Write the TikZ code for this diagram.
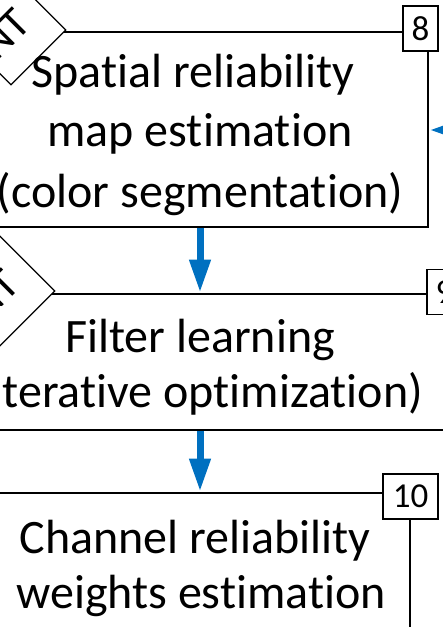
\documentclass[tikz,border=0pt]{standalone}
\usepackage{fontspec}
\setmainfont{Carlito}[Ligatures={NoCommon}]
\usetikzlibrary{arrows.meta,shapes.geometric}
\definecolor{flowblue}{RGB}{0,112,192}
\begin{document}
\begin{tikzpicture}[x=1pt,y=-1pt,
  stage/.style={draw=black,line width=2.6pt,inner sep=0pt},
  steptag/.style={draw=black,fill=white,line width=1.8pt,inner sep=0pt,
    minimum height=45pt,font=\fontsize{35}{35}\selectfont},
  gate/.style={draw=black,fill=white,line width=1.2pt,shape=diamond,
    aspect=1,inner sep=0pt},
  caption/.style={anchor=base,inner sep=0pt,font=\fontsize{48}{48}\selectfont},
  gatetext/.style={inner sep=0pt,font=\fontsize{44}{44}\selectfont},
  flow/.style={draw=flowblue,line width=7pt,
    -{Triangle[length=33pt,width=20pt]}}]
\useasboundingbox (0,0) rectangle (443,627);
\clip (0,0) rectangle (443,627);

% processing stages
\node[stage,minimum width=488pt,minimum height=195pt] (srm) at (184,129.5) {};
\node[stage,minimum width=560pt,minimum height=136pt] (fl) at (220,362) {};
\node[stage,minimum width=480pt,minimum height=200pt] (crw) at (170,593) {};

% entry gates, labelled along their upper-left edge
\node[gate,minimum width=110pt,minimum height=110pt] (g1) at (11,30) {};
\node[gate,minimum width=120pt,minimum height=120pt] (g2) at (-5,291) {};
\node[gatetext,rotate=45] (g1t) at (5.4,33.6) {NT};
\node[gatetext,rotate=45] (g2t) at (-5.6,294.6) {NT};

% step numbers
\node[steptag,minimum width=35pt] (n8) at (420.5,28.5) {8};
\node[steptag,minimum width=35pt] (n9) at (444.5,292) {9};
\node[steptag,minimum width=55pt] (n10) at (410.5,496.5) {10};

% stage captions
\node[caption] (srm1) at (193,87) {Spatial reliability};
\node[caption] (srm2) at (200,146) {map estimation};
\node[caption] (srm3) at (200,207) {(color segmentation)};
\node[caption] (fl1) at (200,352) {Filter learning};
\node[caption] (fl2) at (200,407) {(iterative optimization)};
\node[caption] (crw1) at (195,553) {Channel reliability};
\node[caption] (crw2) at (201,608) {weights estimation};

% data flow
\coordinate (ax) at (200,0);
\coordinate (fb) at (470,130);
\draw[flow] (srm.south -| ax) -- (fl.north -| ax);
\draw[flow] (fl.south -| ax) -- (crw.north -| ax);
\draw[flow] (fb) -- (srm.east |- fb);
\end{tikzpicture}
\end{document}
